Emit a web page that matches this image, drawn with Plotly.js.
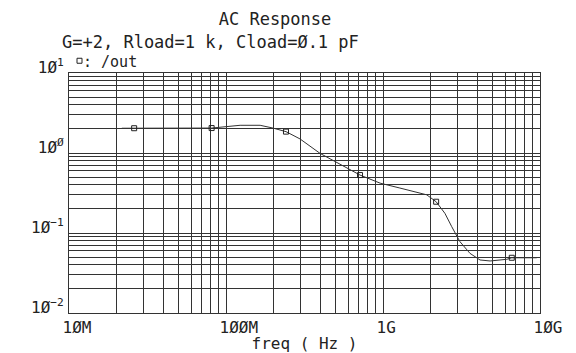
<!DOCTYPE html>
<html>
<head>
<meta charset="utf-8">
<script src="https://cdn.plot.ly/plotly-3.0.1.min.js"></script>
<style>html,body{margin:0;padding:0;background:#fff;}#chart{width:576px;height:353px;}</style>
</head>
<body>
<div id="chart"></div>
<script>
// Curve of /out (frequency in Hz, magnitude)
const freq = [2.17e7, 3.28e7, 4.94e7, 8.11e7, 1.23e8, 1.65e8, 1.99e8, 2.41e8, 2.96e8, 3.97e8, 7.14e8, 9.58e8, 1.28e9, 1.90e9, 2.18e9, 2.48e9, 2.74e9, 3.09e9, 3.58e9, 4.15e9, 4.81e9, 6.14e9, 6.61e9, 9.53e9];
const mag  = [2.04, 2.04, 2.04, 2.05, 2.22, 2.22, 2.05, 1.85, 1.50, 0.99, 0.53, 0.42, 0.365, 0.30, 0.246, 0.176, 0.12, 0.078, 0.0557, 0.046, 0.0447, 0.0469, 0.049, 0.049];
// Marker positions along the curve
const markFreq = [2.6e7, 8.1e7, 2.41e8, 7.14e8, 2.18e9, 6.61e9];
const markMag  = [2.04, 2.05, 1.85, 0.53, 0.246, 0.049];
// Tick labels
const xTickVals = [1e7, 1e8, 1e9, 1e10];
const xTickText = ['1ØM', '1ØØM', '1G', '1ØG'];
const yTickVals = [10, 1, 0.1, 0.01];
const yTickText = ['1Ø<sup>1</sup>', '1Ø<sup>Ø</sup>', '1Ø<sup>−1</sup>', '1Ø<sup>−2</sup>'];
const seriesName = ': /out';

const FONT = 'DejaVu Sans Mono, monospace';
const INK = '#222';
const GRID = '#333';

const traces = [
  {x: freq, y: mag, type: 'scatter', mode: 'lines', line: {color: '#333', width: 1}, showlegend: false, hoverinfo: 'skip'},
  {x: markFreq, y: markMag, type: 'scatter', mode: 'markers', name: '',
   marker: {symbol: 'square-open', size: 5, color: INK, line: {width: 1, color: INK}}}
];

const layout = {
  width: 576, height: 353,
  margin: {l: 69, r: 36, t: 73, b: 40},
  paper_bgcolor: '#fff', plot_bgcolor: '#fff',
  font: {family: FONT, size: 16, color: INK},
  title: {text: 'AC Response', x: 275/576, xanchor: 'center', xref: 'container', y: 1 - 19/353, yanchor: 'middle', yref: 'container', font: {family: FONT, size: 17, color: INK}},
  showlegend: true,
  legend: {x: (59.5-69)/471, xanchor: 'left', y: 1.05, yanchor: 'middle', bgcolor: 'rgba(0,0,0,0)', borderwidth: 0, itemwidth: 30, font: {family: FONT, size: 15, color: INK}},
  annotations: [
    {text: 'G=+2, Rload=1 k, Cload=Ø.1 pF', xref: 'paper', yref: 'paper', x: (61-69)/471, xanchor: 'left', y: (313-42)/240, yanchor: 'middle', borderpad: 0, showarrow: false, font: {family: FONT, size: 17, color: INK}},
    {text: seriesName, xref: 'paper', yref: 'paper', x: (82-69)/471, xanchor: 'left', y: (313-61.5)/240, yanchor: 'middle', borderpad: 0, showarrow: false, font: {family: FONT, size: 15, color: INK}}
  ],
  xaxis: {
    type: 'log', range: [7, 10], autorange: false,
    tickvals: xTickVals, ticktext: xTickText, ticks: '',
    ticklabelposition: 'outside right', ticklabelshift: -7,
    showgrid: true, gridcolor: GRID, gridwidth: 1,
    minor: {dtick: 'D1', showgrid: true, gridcolor: GRID, gridwidth: 1, ticks: ''},
    showline: true, mirror: true, linecolor: GRID, linewidth: 1,
    zeroline: false, automargin: false,
    tickfont: {family: FONT, size: 16, color: INK},
    title: {text: 'freq ( Hz )', standoff: 2, font: {family: FONT, size: 16, color: INK}}
  },
  yaxis: {
    type: 'log', range: [-2, 1], autorange: false,
    tickvals: yTickVals, ticktext: yTickText, ticks: '',
    ticklabelshift: -6, ticklabelstandoff: 1,
    showgrid: true, gridcolor: GRID, gridwidth: 1,
    minor: {dtick: 'D1', showgrid: true, gridcolor: GRID, gridwidth: 1, ticks: ''},
    showline: true, mirror: true, linecolor: GRID, linewidth: 1,
    zeroline: false, automargin: false,
    tickfont: {family: FONT, size: 16, color: INK}
  }
};

Plotly.newPlot('chart', traces, layout, {staticPlot: true, displayModeBar: false});
</script>
</body>
</html>
